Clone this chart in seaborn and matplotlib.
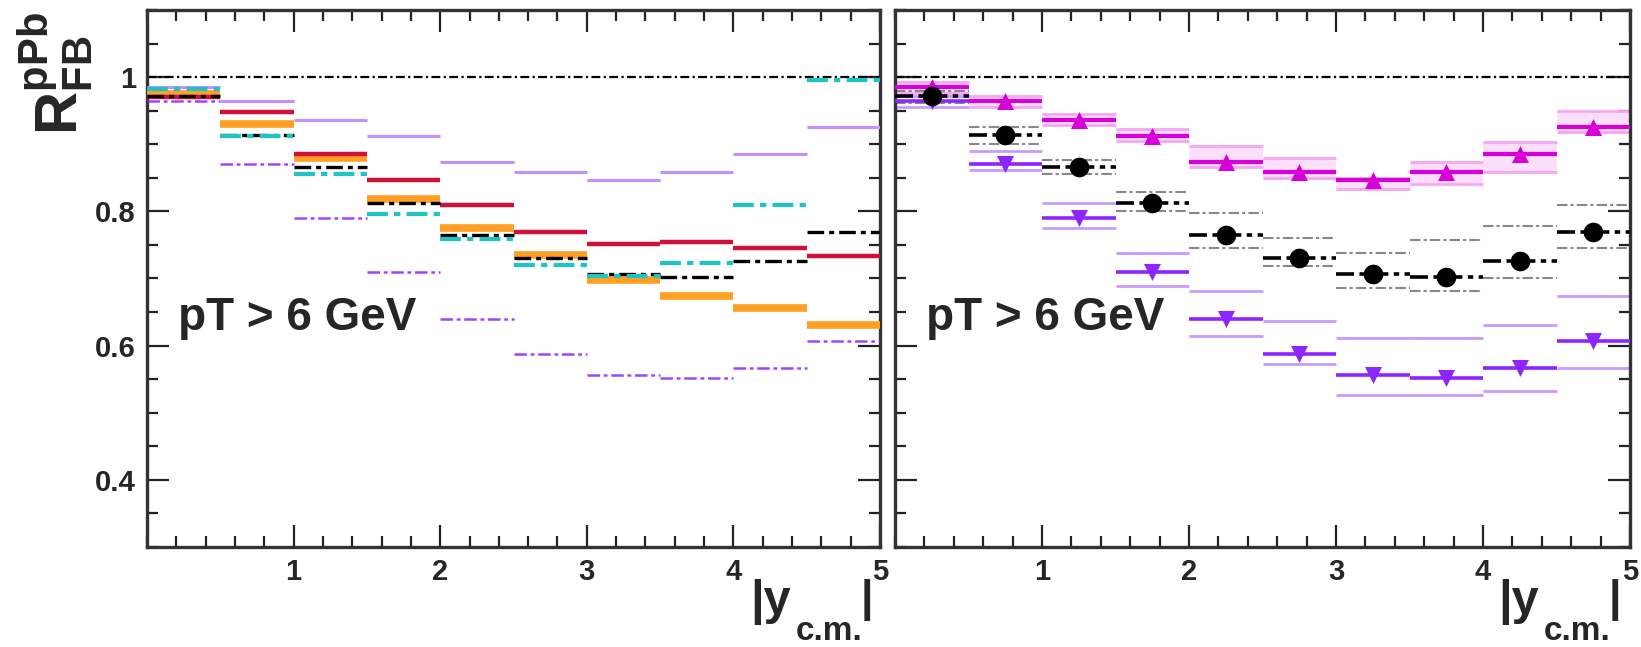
import numpy as np
import pandas as pd
import matplotlib
matplotlib.use("Agg")
import matplotlib.pyplot as plt
import seaborn as sns
from matplotlib.ticker import MultipleLocator, FixedLocator

# ---------------- data ----------------
bin_lo = [0.0, 0.5, 1.0, 1.5, 2.0, 2.5, 3.0, 3.5, 4.0, 4.5]
bin_hi = [0.5, 1.0, 1.5, 2.0, 2.5, 3.0, 3.5, 4.0, 4.5, 5.0]
bin_ctr = [0.25, 0.75, 1.25, 1.75, 2.25, 2.75, 3.25, 3.75, 4.25, 4.75]

# left panel model curves
red_model = [0.970, 0.948, 0.886, 0.846, 0.809, 0.770, 0.751, 0.755, 0.745, 0.733]
orange_model = [0.975, 0.930, 0.879, 0.819, 0.775, 0.735, 0.698, 0.674, 0.656, 0.630]
cyan_model = [0.982, 0.912, 0.856, 0.796, 0.759, 0.720, 0.704, 0.723, 0.809, 0.996]

# data series (right panel markers, left panel lines)
magenta_up = [0.986, 0.964, 0.936, 0.913, 0.874, 0.859, 0.846, 0.859, 0.886, 0.926]
black_circ = [0.972, 0.914, 0.866, 0.813, 0.765, 0.731, 0.706, 0.702, 0.726, 0.770]
violet_down = [0.964, 0.871, 0.790, 0.709, 0.639, 0.588, 0.556, 0.552, 0.566, 0.607]

# systematic boxes
magenta_syst_lo = [0.976, 0.955, 0.929, 0.905, 0.866, 0.850, 0.834, 0.841, 0.859, 0.918]
magenta_syst_hi = [0.992, 0.972, 0.945, 0.922, 0.897, 0.880, 0.850, 0.874, 0.904, 0.949]
black_syst_lo = [0.962, 0.900, 0.855, 0.800, 0.745, 0.718, 0.686, 0.681, 0.700, 0.745]
black_syst_hi = [0.980, 0.925, 0.876, 0.829, 0.797, 0.760, 0.738, 0.757, 0.778, 0.809]
violet_syst_lo = [0.955, 0.862, 0.775, 0.689, 0.614, 0.572, 0.526, 0.526, 0.533, 0.567]
violet_syst_hi = [0.972, 0.890, 0.812, 0.738, 0.681, 0.637, 0.612, 0.612, 0.631, 0.674]

x_ticks = [1, 2, 3, 4, 5]
y_ticks = [0.4, 0.6, 0.8, 1.0]
y_ticklabels = ["0.4", "0.6", "0.8", "1"]
panel_text = "pT > 6 GeV"

# ---------------- style ----------------
sns.set_theme(style="ticks")
plt.rcParams['font.family'] = ['Liberation Sans', 'DejaVu Sans']
plt.rcParams['font.weight'] = 'bold'
plt.rcParams['mathtext.fontset'] = 'custom'
plt.rcParams['mathtext.rm'] = 'Liberation Sans:bold'
plt.rcParams['mathtext.bf'] = 'Liberation Sans:bold'
plt.rcParams['mathtext.it'] = 'Liberation Sans:bold'

RED = '#d0103a'
ORANGE = '#ffa024'
CYAN = '#1cc4c4'
LAVENDER = '#c290ff'
VIOLET = '#8e24ff'
MAGENTA = '#d800d8'
PINK = '#f5a6f2'

df = pd.DataFrame({
    'lo': bin_lo, 'hi': bin_hi, 'ctr': bin_ctr,
    'red': red_model, 'orange': orange_model, 'cyan': cyan_model,
    'mag': magenta_up, 'blk': black_circ, 'vio': violet_down,
    'mag_lo': magenta_syst_lo, 'mag_hi': magenta_syst_hi,
    'blk_lo': black_syst_lo, 'blk_hi': black_syst_hi,
    'vio_lo': violet_syst_lo, 'vio_hi': violet_syst_hi,
})

W, H = 1641, 647
fig = plt.figure(figsize=(W / 100, H / 100), dpi=100)
axL = fig.add_axes([147 / W, 1 - 547 / H, (880 - 147) / W, (547 - 10) / H])
axR = fig.add_axes([895 / W, 1 - 547 / H, (1630 - 895) / W, (547 - 10) / H])

dash_root = (0, (5, 1.5, 1.5, 1.5))

for ax in (axL, axR):
    ax.set_xlim(0, 5)
    ax.set_ylim(0.3, 1.1)
    ax.hlines(1.0, 0, 5, colors='black', linewidth=1.6, linestyles=(0, (4, 1.5, 1, 1.5)), zorder=2)
    ax.xaxis.set_major_locator(FixedLocator(x_ticks))
    ax.xaxis.set_minor_locator(MultipleLocator(0.2))
    ax.yaxis.set_major_locator(FixedLocator(y_ticks))
    ax.yaxis.set_minor_locator(MultipleLocator(0.05))
    ax.tick_params(which='both', direction='in', top=True, right=True, width=1.6, color='#222222')
    ax.tick_params(which='major', length=16)
    ax.tick_params(which='minor', length=8)
    ax.tick_params(axis='x', which='major', labelsize=21, pad=8)
    ax.tick_params(axis='y', which='major', labelsize=21, pad=8)
    for s in ax.spines.values():
        s.set_linewidth(2.4)
        s.set_color('#333333')
    ax.set_xticklabels([str(t) for t in x_ticks], fontweight='bold')
    ax.text(0.21, 0.624, panel_text, fontsize=33, fontweight='bold', ha='left', va='baseline', zorder=10)

axL.set_yticklabels(y_ticklabels, fontweight='bold')
axR.set_yticklabels([])

# ---------------- left panel ----------------
axL.hlines(df['vio'], df['lo'], df['hi'], colors=VIOLET, linewidth=1.8,
           linestyles=dash_root, alpha=0.85, zorder=3)
axL.hlines(df['mag'], df['lo'], df['hi'], colors=LAVENDER, linewidth=2.2, zorder=3)
axL.hlines(df['orange'], df['lo'], df['hi'], colors=ORANGE, linewidth=5.5, zorder=4)
axL.hlines(df['red'], df['lo'], df['hi'], colors=RED, linewidth=3.2, zorder=5)
axL.hlines(df['blk'], df['lo'], df['hi'], colors='black', linewidth=2.4, linestyles=dash_root, zorder=6)
axL.hlines(df['cyan'], df['lo'], df['hi'], colors=CYAN, linewidth=3.0, linestyles=dash_root, zorder=6)

# ---------------- right panel ----------------
axR.bar(df['ctr'], df['mag_hi'] - df['mag_lo'], bottom=df['mag_lo'], width=0.5,
        color=PINK, alpha=0.35, linewidth=0, zorder=2)
axR.hlines(df['mag_hi'], df['lo'], df['hi'], colors=PINK, linewidth=2.0, zorder=2)
axR.hlines(df['mag_lo'], df['lo'], df['hi'], colors=PINK, linewidth=2.0, zorder=2)
axR.hlines(df['blk_hi'], df['lo'], df['hi'], colors='#888888', linewidth=1.5, linestyles=dash_root, zorder=2)
axR.hlines(df['blk_lo'], df['lo'], df['hi'], colors='#888888', linewidth=1.5, linestyles=dash_root, zorder=2)
axR.hlines(df['vio_hi'], df['lo'], df['hi'], colors=LAVENDER, linewidth=2.0, alpha=0.9, zorder=2)
axR.hlines(df['vio_lo'], df['lo'], df['hi'], colors=LAVENDER, linewidth=2.0, alpha=0.9, zorder=2)

axR.hlines(df['mag'], df['lo'], df['hi'], colors=MAGENTA, linewidth=3.0, zorder=4)
axR.hlines(df['vio'], df['lo'], df['hi'], colors=VIOLET, linewidth=2.6, zorder=4)
axR.hlines(df['blk'], df['lo'], df['hi'], colors='black', linewidth=2.6, linestyles=dash_root, zorder=4)

sns.scatterplot(data=df, x='ctr', y='mag', marker='^', s=150, color=MAGENTA, edgecolor=MAGENTA,
                linewidth=0, ax=axR, zorder=6, legend=False)
sns.scatterplot(data=df, x='ctr', y='vio', marker='v', s=150, color=VIOLET, edgecolor=VIOLET,
                linewidth=0, ax=axR, zorder=6, legend=False)
sns.scatterplot(data=df, x='ctr', y='blk', marker='o', s=200, color='black', edgecolor='black',
                linewidth=0, ax=axR, zorder=6, legend=False)

for ax in (axL, axR):
    ax.set_xlabel('')
    ax.set_ylabel('')
    ax.set_xlim(0, 5)
    ax.set_ylim(0.3, 1.1)

# ---------------- axis titles ----------------
fig.text(56 / W, 1 - 12 / H, r'$\mathbf{R}_{\mathbf{FB}}^{\mathbf{pPb}}$', rotation=90,
         fontsize=43, ha='center', va='top')
for x0 in (750, 1498):
    fig.text(x0 / W, 1 - 614 / H, '|y', fontsize=35, fontweight='bold', ha='left', va='baseline')
    fig.text((x0 + 46) / W, 1 - 640 / H, 'c.m.', fontsize=24, fontweight='bold', ha='left', va='baseline')
    fig.text((x0 + 111) / W, 1 - 611 / H, '|', fontsize=32, fontweight='bold', ha='left', va='baseline')

fig.savefig('out.png', dpi=100)
